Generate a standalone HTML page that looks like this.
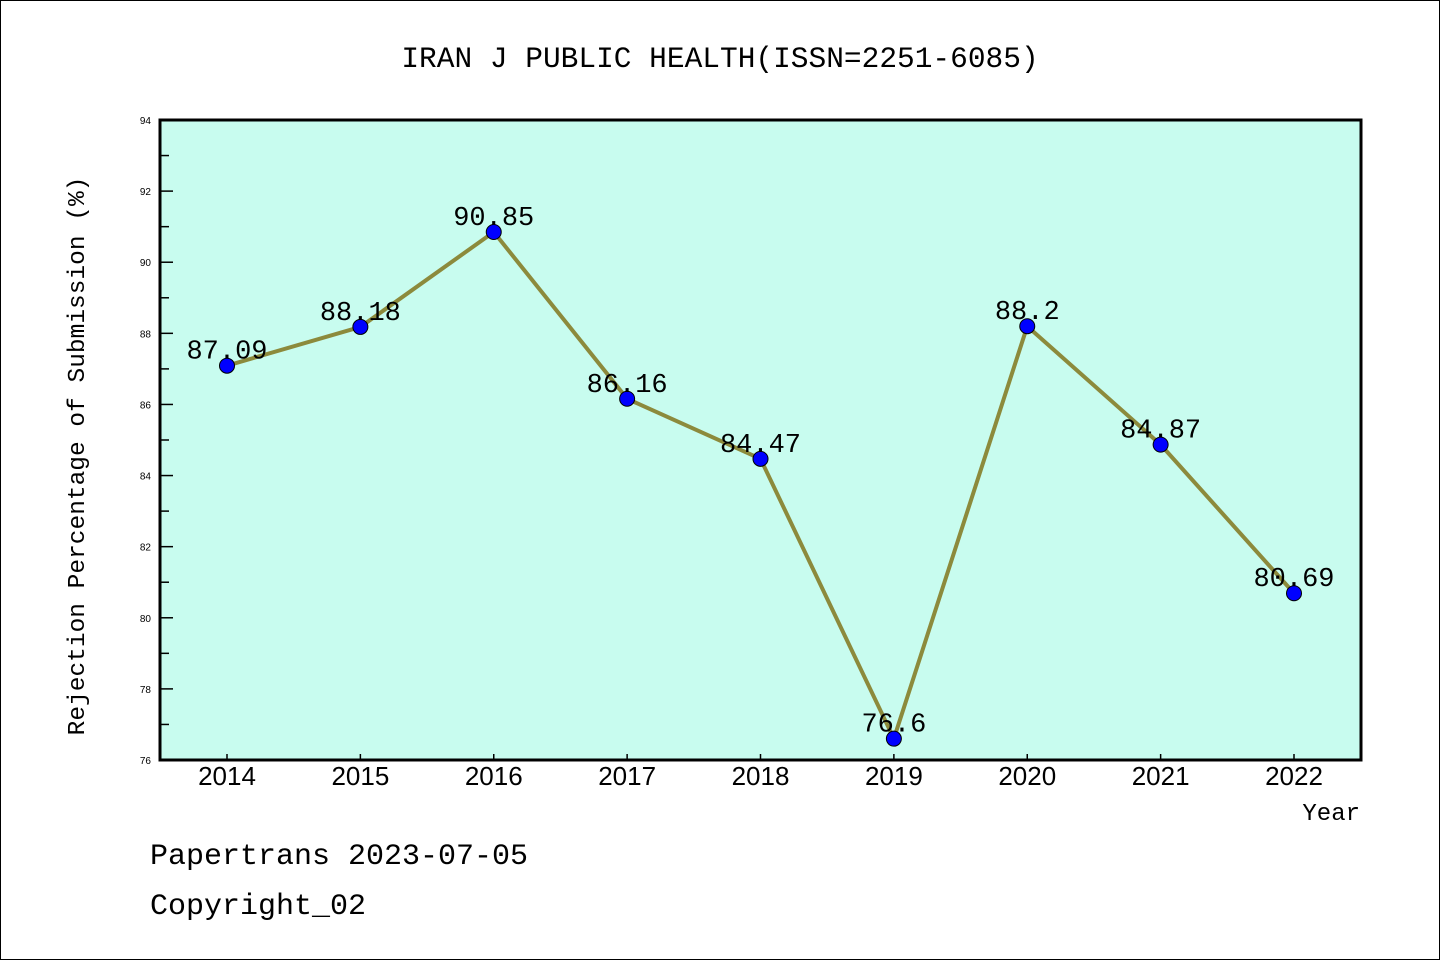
<!DOCTYPE html>
<html><head><meta charset="utf-8"><style>
html,body{margin:0;padding:0;background:#fff}
svg{display:block}
.mono{font-family:"Liberation Mono","Noto Sans CJK SC",monospace}
.sans{font-family:"Liberation Sans",sans-serif}
</style></head><body>
<svg id="chart" width="1440" height="960" xmlns="http://www.w3.org/2000/svg">
<rect x="0.5" y="0.5" width="1439" height="959" fill="#fff" stroke="#000" stroke-width="1"/>
<text class="mono" x="720" y="67" font-size="29.5" text-anchor="middle">IRAN J PUBLIC HEALTH(ISSN=2251-6085)</text>
<rect x="160" y="120" width="1201" height="640" fill="#c8fcef"/>
<g id="axes"></g>
<g id="series"></g>
<rect x="160" y="120" width="1201" height="640" fill="none" stroke="#000" stroke-width="3"/>
<text class="mono" x="0" y="0" font-size="24.5" text-anchor="middle" transform="translate(84,456) rotate(-90)">Rejection Percentage of Submission (%)</text>
<text class="mono" x="1360" y="820" font-size="24" text-anchor="end">Year</text>
<text class="mono" x="150" y="864" font-size="30">Papertrans 2023-07-05</text>
<text class="mono" x="150" y="914" font-size="30">Copyright_02</text>
</svg>
<script>
const years = ["2014","2015","2016","2017","2018","2019","2020","2021","2022"];
const values = [87.09, 88.18, 90.85, 86.16, 84.47, 76.6, 88.2, 84.87, 80.69];
const labels = ["87.09","88.18","90.85","86.16","84.47","76.6","88.2","84.87","80.69"];
const yTicks = [76,78,80,82,84,86,88,90,92,94];
const NS="http://www.w3.org/2000/svg";
const yMin=76,yMax=94,plotTop=120,plotBot=760;
function ys(v){return plotBot-(v-yMin)/(yMax-yMin)*(plotBot-plotTop);}
function xs(i){return 227+i*(1294-227)/(years.length-1);}
function mk(t,a,p){const e=document.createElementNS(NS,t);for(const k in a)e.setAttribute(k,a[k]);p.appendChild(e);return e;}
const ax=document.getElementById('axes'), sr=document.getElementById('series');
yTicks.forEach(v=>{
 const t=mk('line',{x1:160,x2:173,y1:ys(v),y2:ys(v),stroke:'#000','stroke-width':1.5},ax);
 
 
 const l=mk('text',{x:151,y:ys(v)+4,'font-size':10,'text-anchor':'end','class':'sans'},ax);
 l.textContent=v;
 
 
 if(v<yMax){
  const m=mk('line',{x1:160,x2:169,y1:ys(v+1),y2:ys(v+1),stroke:'#000','stroke-width':1.5},ax);
  
  
 }
});
years.forEach((y,i)=>{
 const t=mk('line',{x1:xs(i),x2:xs(i),y1:760,y2:754,stroke:'#000','stroke-width':1.5},ax);
 
 
 const l=mk('text',{x:xs(i),y:785,'font-size':26,'text-anchor':'middle','class':'sans'},ax);
 l.textContent=y;
 
 
});
const pl=mk('polyline',{points:values.map((v,i)=>xs(i)+','+ys(v)).join(' '),fill:'none',stroke:'#8c8a3c','stroke-width':4,'stroke-linejoin':'round'},sr);


values.forEach((v,i)=>{
 const c=mk('circle',{cx:xs(i),cy:ys(v),r:7.5,fill:'#0000ff',stroke:'#000','stroke-width':1},sr);
 
 
 const t=mk('text',{x:xs(i),y:ys(v)-7,'font-size':27,'text-anchor':'middle','class':'mono'},sr);
 t.textContent=labels[i];
 
 
});
</script>
</body></html>
